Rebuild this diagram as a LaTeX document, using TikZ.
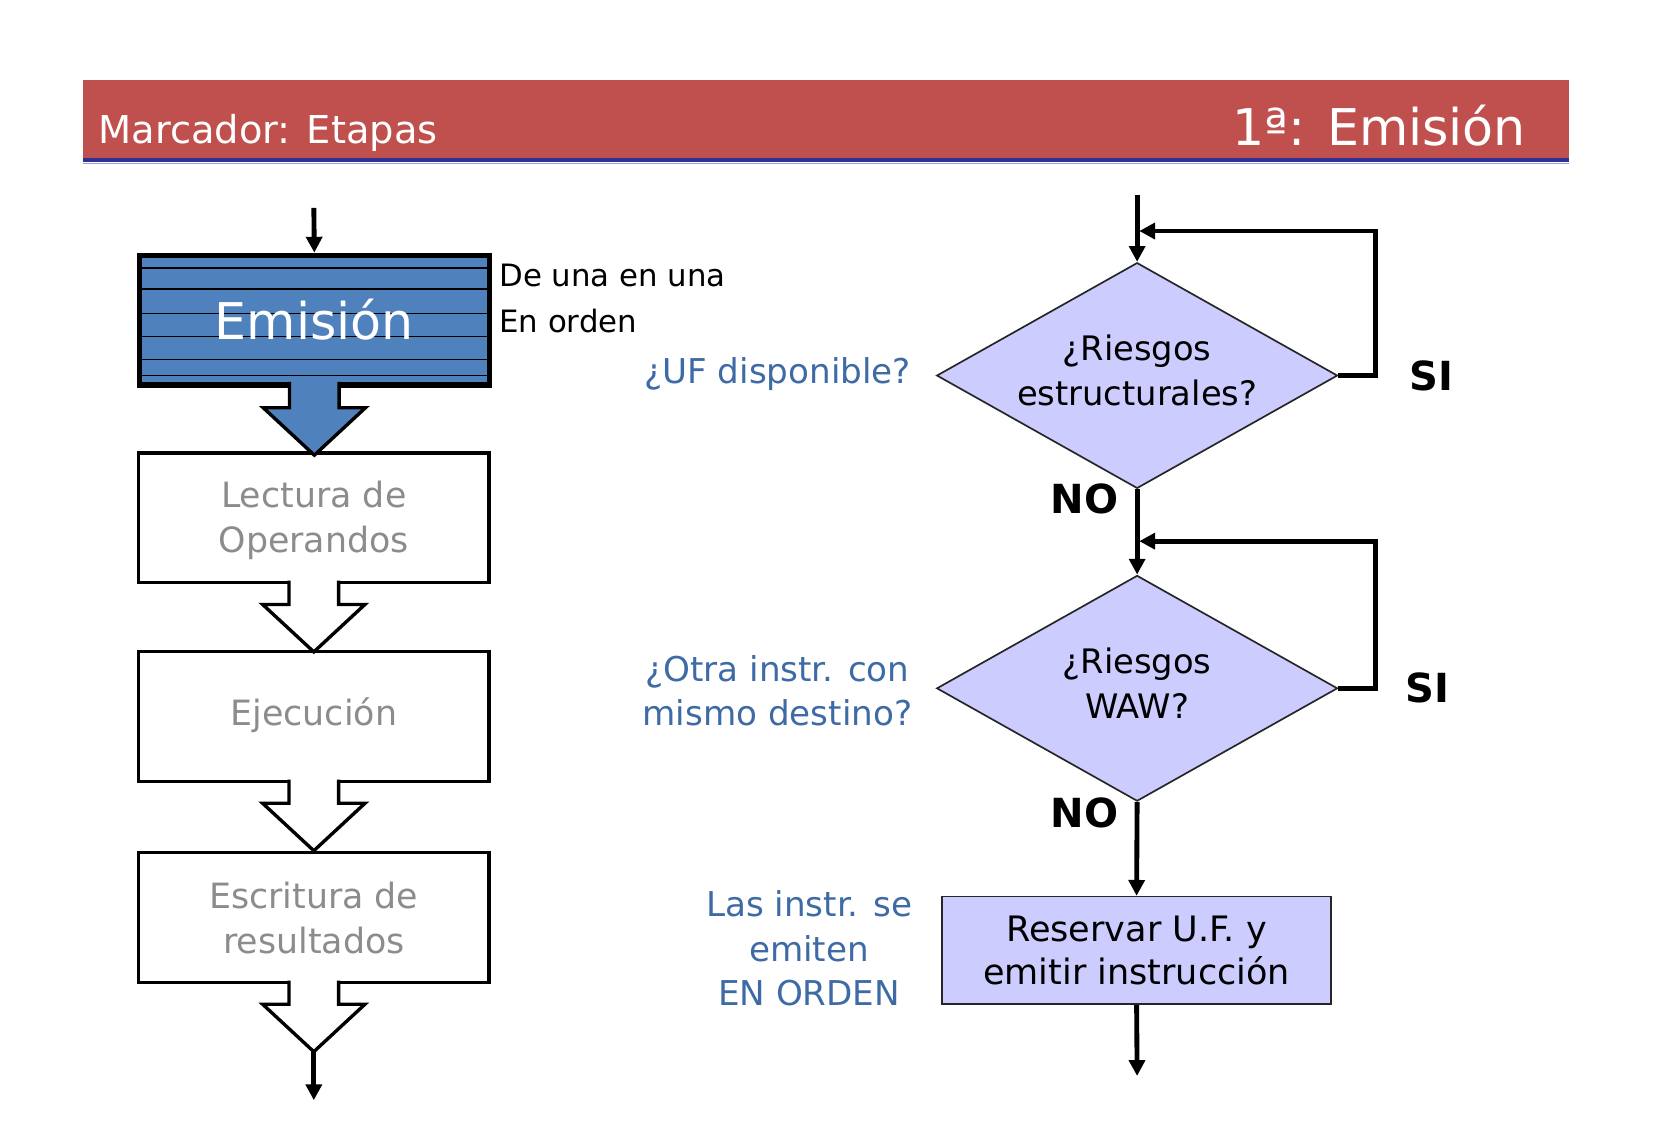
\documentclass[tikz,border=0pt]{standalone}
\usepackage{fontspec}
\setmainfont{DejaVu Sans}
\usetikzlibrary{shapes.geometric,arrows.meta,calc}
\definecolor{hdrred}{HTML}{C0504D}
\definecolor{hdrblue}{HTML}{2E3192}
\definecolor{hdrlight}{HTML}{9C9CDC}
\definecolor{emblue}{HTML}{4F81BD}
\definecolor{lav}{HTML}{CCCCFF}
\definecolor{graytxt}{HTML}{8C8C8C}
\definecolor{noteblue}{HTML}{3E6AA5}
\newcommand\fatarrow[4]{%
  \draw[line width=1.6pt, fill=#2, line join=miter]
    ($(#1.south)+(-23.5,-#4)$) -- ($(#1.south)+(-23.5,19)$) -- ($(#1.south)+(-48.5,19)$)
    -- ($(#1.south)+(0,64)$) coordinate (#3)
    -- ($(#1.south)+(48.5,19)$) -- ($(#1.south)+(23.5,19)$) -- ($(#1.south)+(23.5,-#4)$);}
\begin{document}
\begin{tikzpicture}[x=0.5pt,y=-0.5pt,
  stage/.style={draw, line width=1.5pt, fill=white, minimum width=166pt, minimum height=61.5pt,
    inner sep=0pt, align=center, text=graytxt, font=\fontsize{16.5pt}{21.5pt}\selectfont},
  dec/.style={diamond, draw=black!85, line width=0.8pt, fill=lav, minimum width=190pt,
    minimum height=107pt, aspect=1.78, inner sep=0pt},
  dtext/.style={yshift=2.5pt, align=center, inner sep=0pt, font=\fontsize{16pt}{21.5pt}\selectfont},
  rbox/.style={draw=black!85, line width=0.8pt, fill=lav, minimum width=184.5pt, minimum height=51pt,
    inner sep=0pt, align=center, font=\fontsize{16.6pt}{20.5pt}\selectfont},
  conn/.style={line width=2.3pt, -{Triangle[length=7.5pt,width=7.5pt]}},
  yn/.style={font=\bfseries\fontsize{19pt}{21pt}\selectfont},
  note/.style={text=noteblue, align=center, font=\fontsize{16.2pt}{21pt}\selectfont},
  side/.style={align=left, font=\fontsize{14.6pt}{21.5pt}\selectfont, inner sep=0pt}]
\useasboundingbox[fill=white] (0,0) rectangle (1568,1084);
% header
\node[fill=hdrred, minimum width=704pt, minimum height=37.5pt, inner sep=0pt] (hdr) at (783,113.5) {};
\draw[hdrblue, line width=2pt] (hdr.south west) -- (hdr.south east);
\draw[hdrlight, line width=0.8pt] ($(hdr.south west)+(0,3.5)$) -- ($(hdr.south east)+(0,3.5)$);
\node[anchor=base west, text=white, inner sep=0pt, font=\fontsize{18.2pt}{20pt}\selectfont] (ht1) at (93,136) {Marcador: Etapas};
\node[anchor=base east, text=white, inner sep=0pt, font=\fontsize{24pt}{28pt}\selectfont] (ht2) at (1447,138) {1ª: Emisión};
% left column
\node[stage, fill=emblue, line width=2.5pt] (e) at (298,303.5) {};
\foreach \yy in {254,274,297,319,341,356} \draw[line width=0.6pt] (133,\yy) -- (463,\yy);
\node[text=white, font=\fontsize{24pt}{26pt}\selectfont] (et) at (298,303) {Emisión};
\node[side, anchor=west] (de) at (473,283) {De una en una\\En orden};
\node[stage] (l) at (297.5,491) {\strut Lectura de\\Operandos};
\node[stage] (x) at (297.5,679.5) {\strut Ejecución};
\node[stage] (w) at (297.5,870) {Escritura de\\resultados};
\coordinate (lin) at (297.5,197);
\draw[conn] (lin) -- (e.north);
\fatarrow{e}{emblue}{t1}{5.5}
\fatarrow{l}{white}{t2}{3.5}
\fatarrow{x}{white}{t3}{3.5}
\fatarrow{w}{white}{t4}{3.5}
\coordinate (lout) at (297.5,1043);
\draw[conn] (t4) -- (lout);
% right column
\node[dec, label={[dtext]center:¿Riesgos\\estructurales?}] (d1) at (1078,356) {};
\node[dec, label={[dtext]center:¿Riesgos\\WAW?}] (d2) at (1078,652.5) {};
\node[rbox] (r) at (1077.5,901) {Reservar U.F. y\\emitir instrucción};
\coordinate (top) at (1078,185);
\coordinate (j1) at (1080,219);
\coordinate (j2) at (1080,513);
\coordinate (bot) at (1078,1020);
\draw[conn] (top) -- (d1.north);
\draw[conn] (d1.east) -- ++(35,0) |- (j1);
\draw[conn] (d1.south) -- (d2.north);
\draw[conn] (d2.east) -- ++(35,0) |- (j2);
\draw[conn] (d2.south) -- (r.north);
\draw[conn] (r.south) -- (bot);
\node[yn] (si1) at (1357,356) {SI};
\node[yn] (no1) at (1028,473) {NO};
\node[yn] (si2) at (1353,652) {SI};
\node[yn] (no2) at (1028,771) {NO};
% notes
\node[note, anchor=east, inner sep=0pt] (n1) at (864,355) {¿UF disponible?};
\node[note] (n2) at (737,655) {¿Otra instr. con\\mismo destino?};
\node[note] (n3) at (767,899) {Las instr. se\\emiten\\EN ORDEN};
\end{tikzpicture}
\end{document}
